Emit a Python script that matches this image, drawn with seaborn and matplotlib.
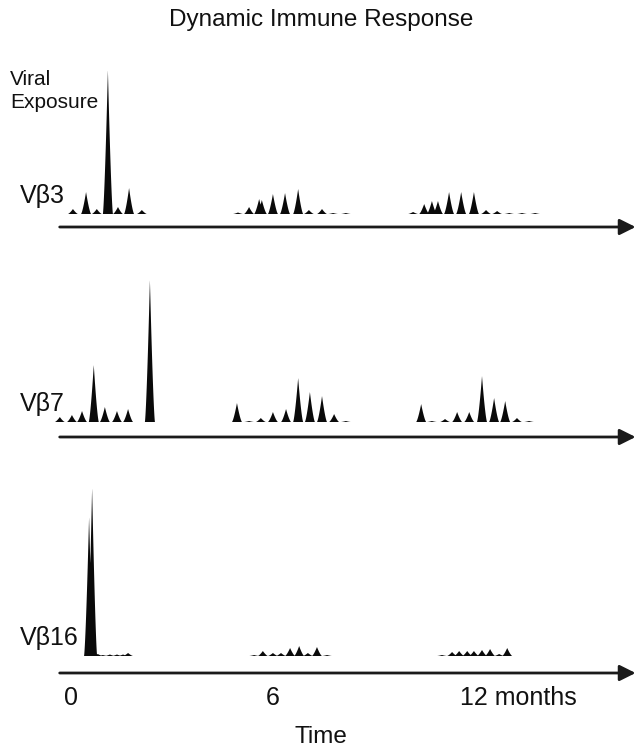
import numpy as np
import matplotlib
matplotlib.use("Agg")
import matplotlib.pyplot as plt
import matplotlib.transforms as mtransforms
import seaborn as sns

vb3_pos = [0.06, 0.45, 0.77, 1.10, 1.40, 1.73, 2.11,
           4.97, 5.30, 5.60, 5.68, 6.01, 6.37, 6.76, 7.08, 7.47, 7.80, 8.18,
           10.18, 10.51, 10.74, 10.92, 11.25, 11.61, 11.99, 12.35, 12.68, 13.04, 13.42, 13.81]
vb3_height = [5, 22, 5, 144, 7, 26, 4,
              1.5, 7, 15, 14, 20, 21, 25, 4, 5, 1, 1,
              2, 10, 13, 13, 22, 22, 22, 4, 3, 1, 1, 1]

vb7_pos = [-0.33, 0.03, 0.33, 0.68, 1.01, 1.37, 1.70, 2.35,
           4.94, 5.30, 5.65, 6.01, 6.40, 6.76, 7.11, 7.47, 7.83, 8.18,
           10.42, 10.74, 11.13, 11.49, 11.85, 12.23, 12.59, 12.92, 13.27, 13.63]
vb7_height = [5, 7, 11, 57, 15, 11, 13, 142,
              19, 1, 4, 10, 13, 44, 30, 26, 8, 1,
              18, 1, 3, 10, 10, 46, 24, 21, 4, 1]

vb16_pos = [0.54, 0.63, 0.80, 0.95, 1.16, 1.37, 1.55, 1.70,
            5.45, 5.71, 6.01, 6.25, 6.52, 6.79, 7.05, 7.32, 7.62,
            11.04, 11.34, 11.55, 11.79, 11.99, 12.23, 12.47, 12.74, 12.98]
vb16_height = [139, 168, 2, 1, 1.5, 1.5, 1.5, 3,
               1, 5, 3, 3, 8, 10, 3, 9, 1,
               1, 4, 5, 5, 5, 6, 7, 2, 8]

families = ["V\u03b23", "V\u03b27", "V\u03b216"]
time_ticks = [0, 6, 12]
time_labels = ["0", "6", "12 months"]


def spectratype(x, centres, heights, hw=0.15):
    y = np.zeros_like(x)
    for c, h in zip(centres, heights):
        d = np.clip(1 - np.abs(x - c) / hw, 0, None)
        y = np.maximum(y, h * d ** 1.4)
    return y


sns.set_style("white")
plt.rcParams["font.family"] = ["Liberation Sans", "DejaVu Sans"]
plt.rcParams["text.color"] = "#111111"
plt.rcParams["xtick.color"] = "#111111"
plt.rcParams["axes.labelcolor"] = "#111111"

W, H = 642, 754
fig = plt.figure(figsize=(W / 100, H / 100), dpi=100)

# (top px, baseline px, bottom px, arrow offset)
rows = [(55, 214, 240, -13), (260, 422, 450, -15), (470, 656, 680, -17)]
series = [(vb3_pos, vb3_height), (vb7_pos, vb7_height), (vb16_pos, vb16_height)]
x_lo, x_hi = -2.11, 16.99
xgrid = np.linspace(x_lo, x_hi, 12000)

axes = []
for (top, base, bot, arr), (pos, hgt), name in zip(rows, series, families):
    ax = fig.add_axes([0, 1 - bot / H, 1, (bot - top) / H])
    ax.set_xlim(x_lo, x_hi)
    ax.set_ylim(-(bot - base), base - top)
    ax.fill_between(xgrid, 0, spectratype(xgrid, pos, hgt), color="#0a0a0a", lw=0)
    ax.annotate("", xy=(0.99, arr), xytext=(0.093, arr),
                xycoords=("axes fraction", "data"),
                arrowprops=dict(arrowstyle="-|>", lw=2, color="#1a1a1a",
                                mutation_scale=24, shrinkA=0, shrinkB=0))
    for s in ax.spines.values():
        s.set_visible(False)
    ax.set_yticks([])
    ax.set_xticks([])
    fig.text(20 / W, 1 - (base - 11) / H, name, fontsize=18, ha="left", va="baseline")
    axes.append(ax)

ax = axes[-1]
ax.set_xticks(time_ticks)
ax.set_xticklabels(time_labels)
ax.tick_params(axis="x", length=0, labelsize=18, pad=4)
lab = ax.get_xticklabels()[-1]
lab.set_horizontalalignment("left")
lab.set_transform(lab.get_transform() + mtransforms.ScaledTranslation(-0.145, 0, fig.dpi_scale_trans))
ax.set_xlabel("Time", fontsize=17.5, labelpad=12)

fig.text(0.5, 1 - 20 / H, "Dynamic Immune Response", fontsize=17.5, ha="center", va="center")
fig.text(10 / W, 1 - 70 / H, "Viral\nExposure", fontsize=15, ha="left", va="top", linespacing=1.25)

fig.savefig("out.png", dpi=100)
